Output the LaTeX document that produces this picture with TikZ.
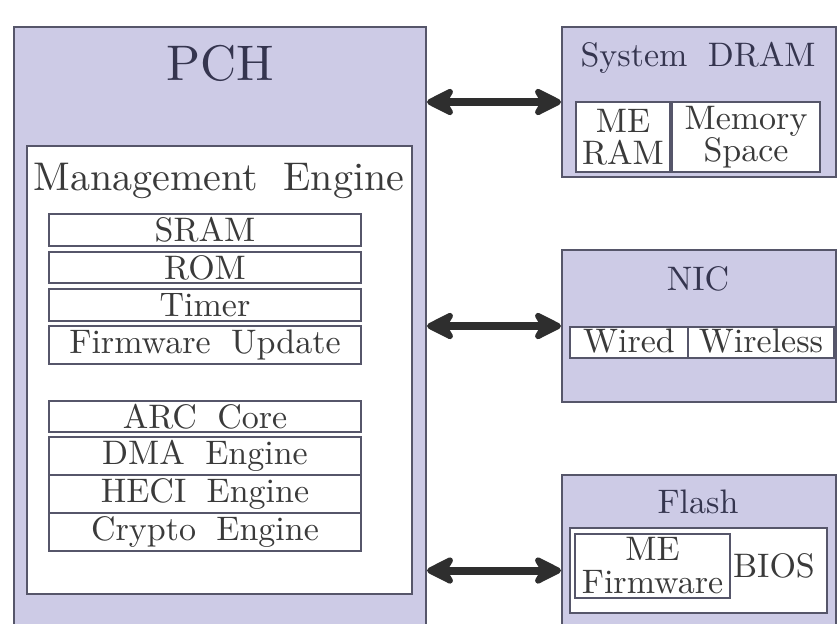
\documentclass[tikz,border=0pt]{standalone}
\usepackage{fontspec}
\setmainfont{lmroman10-regular}[Extension=.otf]
\usetikzlibrary{arrows.meta}

\definecolor{panelfill}{HTML}{CDCBE6}
\definecolor{edgegray}{HTML}{56566A}
\definecolor{ink}{HTML}{3A3A3A}
\definecolor{titleink}{HTML}{35354F}
\definecolor{arrowink}{HTML}{2E2E2E}

% font settings (10pt design scaled up, wide interword spacing)
\newcommand\cellfnt{\fontsize{17}{16}\selectfont\spaceskip=0.6em\relax}
\newcommand\fwfnt{\fontsize{17}{16.5}\selectfont}
\newcommand\engfnt{\fontsize{20}{24}\selectfont\spaceskip=0.63em\relax}
\newcommand\pchfnt{\fontsize{25}{30}\selectfont}

\tikzset{
  panel/.style={draw=edgegray, line width=1pt, fill=panelfill, inner sep=0pt},
  whitebox/.style={draw=edgegray, line width=1pt, fill=white, inner sep=0pt},
  cell/.style={whitebox, text=ink, font=\cellfnt, text height=13.5pt},
  twoline/.style={whitebox, text=ink, font=\cellfnt, align=center},
  paneltitle/.style={text=titleink, font=\cellfnt, inner sep=0pt, anchor=base},
  plainlabel/.style={text=ink, font=\cellfnt, inner sep=0pt, anchor=base},
  dblarrow/.style={draw=arrowink, line width=4pt,
    {Stealth[round,length=17pt,width=17pt,inset=5pt]}-{Stealth[round,length=17pt,width=17pt,inset=5pt]}}
}

\begin{document}
\begin{tikzpicture}[x=0.5pt,y=-0.5pt]
\useasboundingbox (0,0) rectangle (838,623);
\clip (0,0) rectangle (838,623);

% ---- PCH with the Management Engine ----
\node[panel, minimum width=206pt, minimum height=306.5pt] (pch) at (220,333.5) {};
\node[text=titleink, font=\pchfnt, inner sep=0pt] (pchlbl) at (220,63) {PCH};
\node[whitebox, minimum width=192.5pt, minimum height=224pt] (me) at (219.5,370) {};
\node[text=ink, font=\engfnt, inner sep=0pt, anchor=base] (melbl) at (219,190) {Management Engine};

\node[cell, minimum width=156pt, text depth=2.5pt] (sram)   at (205,230)   {SRAM};
\node[cell, minimum width=156pt, text depth=2pt]   (rom)    at (205,267.5) {ROM};
\node[cell, minimum width=156pt, text depth=2.5pt] (timer)  at (205,305)   {Timer};
\node[cell, minimum width=156pt, text depth=5.5pt] (fwupd)  at (205,345)   {Firmware Update};

\node[cell, minimum width=156pt, text depth=2pt]   (arc)    at (205,416.5) {ARC Core};
\node[cell, minimum width=156pt, text depth=5.5pt] (dma)    at (205,456)   {DMA Engine};
\node[cell, minimum width=156pt, text depth=5.5pt] (heci)   at (205,494)   {HECI Engine};
\node[cell, minimum width=156pt, text depth=5.5pt] (crypto) at (205,532)   {Crypto Engine};

% ---- System DRAM ----
\node[panel, minimum width=137pt, minimum height=75pt] (dram) at (699,102) {};
\node[paneltitle] (dramlbl) at (698,66) {System DRAM};
\node[twoline, minimum width=47pt, minimum height=35pt] (meram) at (623,137) {ME\\RAM};
\node[twoline, minimum width=74pt, minimum height=35pt] (memspace) at (746,137) {Memory\\Space};

% ---- NIC ----
\node[panel, minimum width=137pt, minimum height=76pt] (nic) at (699,326) {};
\node[paneltitle] (niclbl) at (698,290) {NIC};
\node[cell, text height=12.5pt, text depth=3pt, minimum width=59pt] (wired) at (629,342.5) {Wired};
\node[cell, text height=12.5pt, text depth=3pt, minimum width=73pt] (wireless) at (761,342.5) {Wireless};

% ---- Flash ----
\node[panel, minimum width=137pt, minimum height=82.5pt] (flash) at (699,557.5) {};
\node[paneltitle] (flashlbl) at (698,513) {Flash};
\node[whitebox, minimum width=128.5pt, minimum height=42.5pt] (flashin) at (698.5,570.5) {};
\node[twoline, font=\fwfnt, minimum width=77.5pt, minimum height=32pt] (mefw) at (652.5,566) {ME\\Firmware};
\node[plainlabel] (bios) at (774,577) {BIOS};

% ---- links ----
\draw[dblarrow] (pch.east |- dram.west) -- (dram.west);
\draw[dblarrow] (pch.east |- nic.west) -- (nic.west);
\draw[dblarrow] (pch.east |- flashin.west) -- (flash.west |- flashin.west);
\end{tikzpicture}
\end{document}
